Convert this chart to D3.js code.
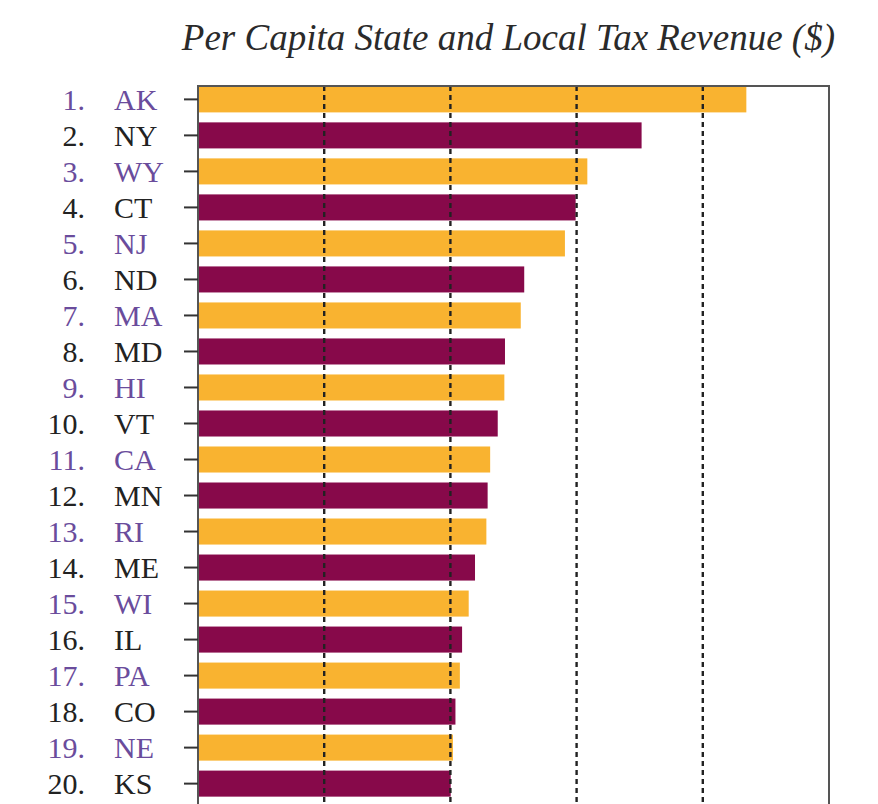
<!DOCTYPE html>
<html>
<head>
<meta charset="utf-8">
<script src="https://cdn.jsdelivr.net/npm/d3@7"></script>
<style>
  body { margin: 0; background: #fff; }
  text { font-family: "Liberation Serif", "DejaVu Serif", serif; }
</style>
</head>
<body>
<div id="my_dataviz"></div>
<script>
// data
const ranks = [1, 2, 3, 4, 5, 6, 7, 8, 9, 10, 11, 12, 13, 14, 15, 16, 17, 18, 19, 20];
const states = ["AK", "NY", "WY", "CT", "NJ", "ND", "MA", "MD", "HI", "VT",
                "CA", "MN", "RI", "ME", "WI", "IL", "PA", "CO", "NE", "KS"];
const revenue = [8690, 7030, 6170, 5985, 5815, 5170, 5115, 4865, 4855, 4750,
                 4630, 4590, 4570, 4390, 4290, 4185, 4150, 4080, 4040, 4005];
const gridTicks = [2000, 4000, 6000, 8000];

// set the dimensions and margins of the graph
const margin = {top: 86, right: 49, bottom: 7, left: 198},
    width = 878 - margin.left - margin.right,
    height = 804 - margin.top - margin.bottom;

const svg = d3.select("#my_dataviz")
  .append("svg")
    .attr("width", 878)
    .attr("height", 804)
  .append("g")
    .attr("transform", `translate(${margin.left}, ${margin.top})`);

// title
svg.append("text")
  .attr("x", width + 6)
  .attr("y", -36)
  .attr("text-anchor", "end")
  .style("font-style", "italic")
  .style("font-size", "37px")
  .style("fill", "#2a2a2a")
  .text("Per Capita State and Local Tax Revenue ($)");

// X scale
const x = d3.scaleLinear()
  .domain([0, 10000])
  .range([0, width]);

// Y scale
const y = d3.scaleBand()
  .domain(states)
  .range([0, height])
  .paddingInner(0.277)
  .paddingOuter(0.01);

// bars
svg.selectAll(".bar")
  .data(states)
  .join("rect")
    .attr("class", "bar")
    .attr("x", x(0))
    .attr("y", d => y(d))
    .attr("width", (d, i) => x(revenue[i]) - x(0))
    .attr("height", y.bandwidth())
    .attr("fill", (d, i) => i % 2 === 0 ? "#f9b330" : "#87094a");

// dashed grid lines
svg.selectAll(".grid")
  .data(gridTicks)
  .join("line")
    .attr("class", "grid")
    .attr("x1", d => x(d))
    .attr("x2", d => x(d))
    .attr("y1", 0)
    .attr("y2", height + 20)
    .attr("stroke", "#222")
    .attr("stroke-width", 2.4)
    .attr("stroke-dasharray", "5,4");

// frame (runs off the bottom like the original crop)
svg.append("path")
  .attr("d", `M0,${height + 20}V0H${width}V${height + 20}`)
  .attr("fill", "none")
  .attr("stroke", "#555")
  .attr("stroke-width", 2);

// Y axis ticks
const yAxis = svg.append("g")
  .call(d3.axisLeft(y).tickSize(14).tickFormat(""));
yAxis.select(".domain").remove();
yAxis.selectAll(".tick line")
  .attr("stroke", "#333")
  .attr("stroke-width", 2);

// labels: rank and state
const labels = svg.append("g");
states.forEach(function(s, i) {
  const cy = y(s) + y.bandwidth() / 2;
  const col = i % 2 === 0 ? "#6a4c9c" : "#222";
  labels.append("text")
    .attr("x", -113)
    .attr("y", cy)
    .attr("dy", "0.35em")
    .attr("text-anchor", "end")
    .style("font-size", "30px")
    .style("fill", col)
    .text(ranks[i] + ".");
  labels.append("text")
    .attr("x", -84)
    .attr("y", cy)
    .attr("dy", "0.35em")
    .style("font-size", "30px")
    .style("fill", col)
    .text(s);
});
</script>
</body>
</html>
